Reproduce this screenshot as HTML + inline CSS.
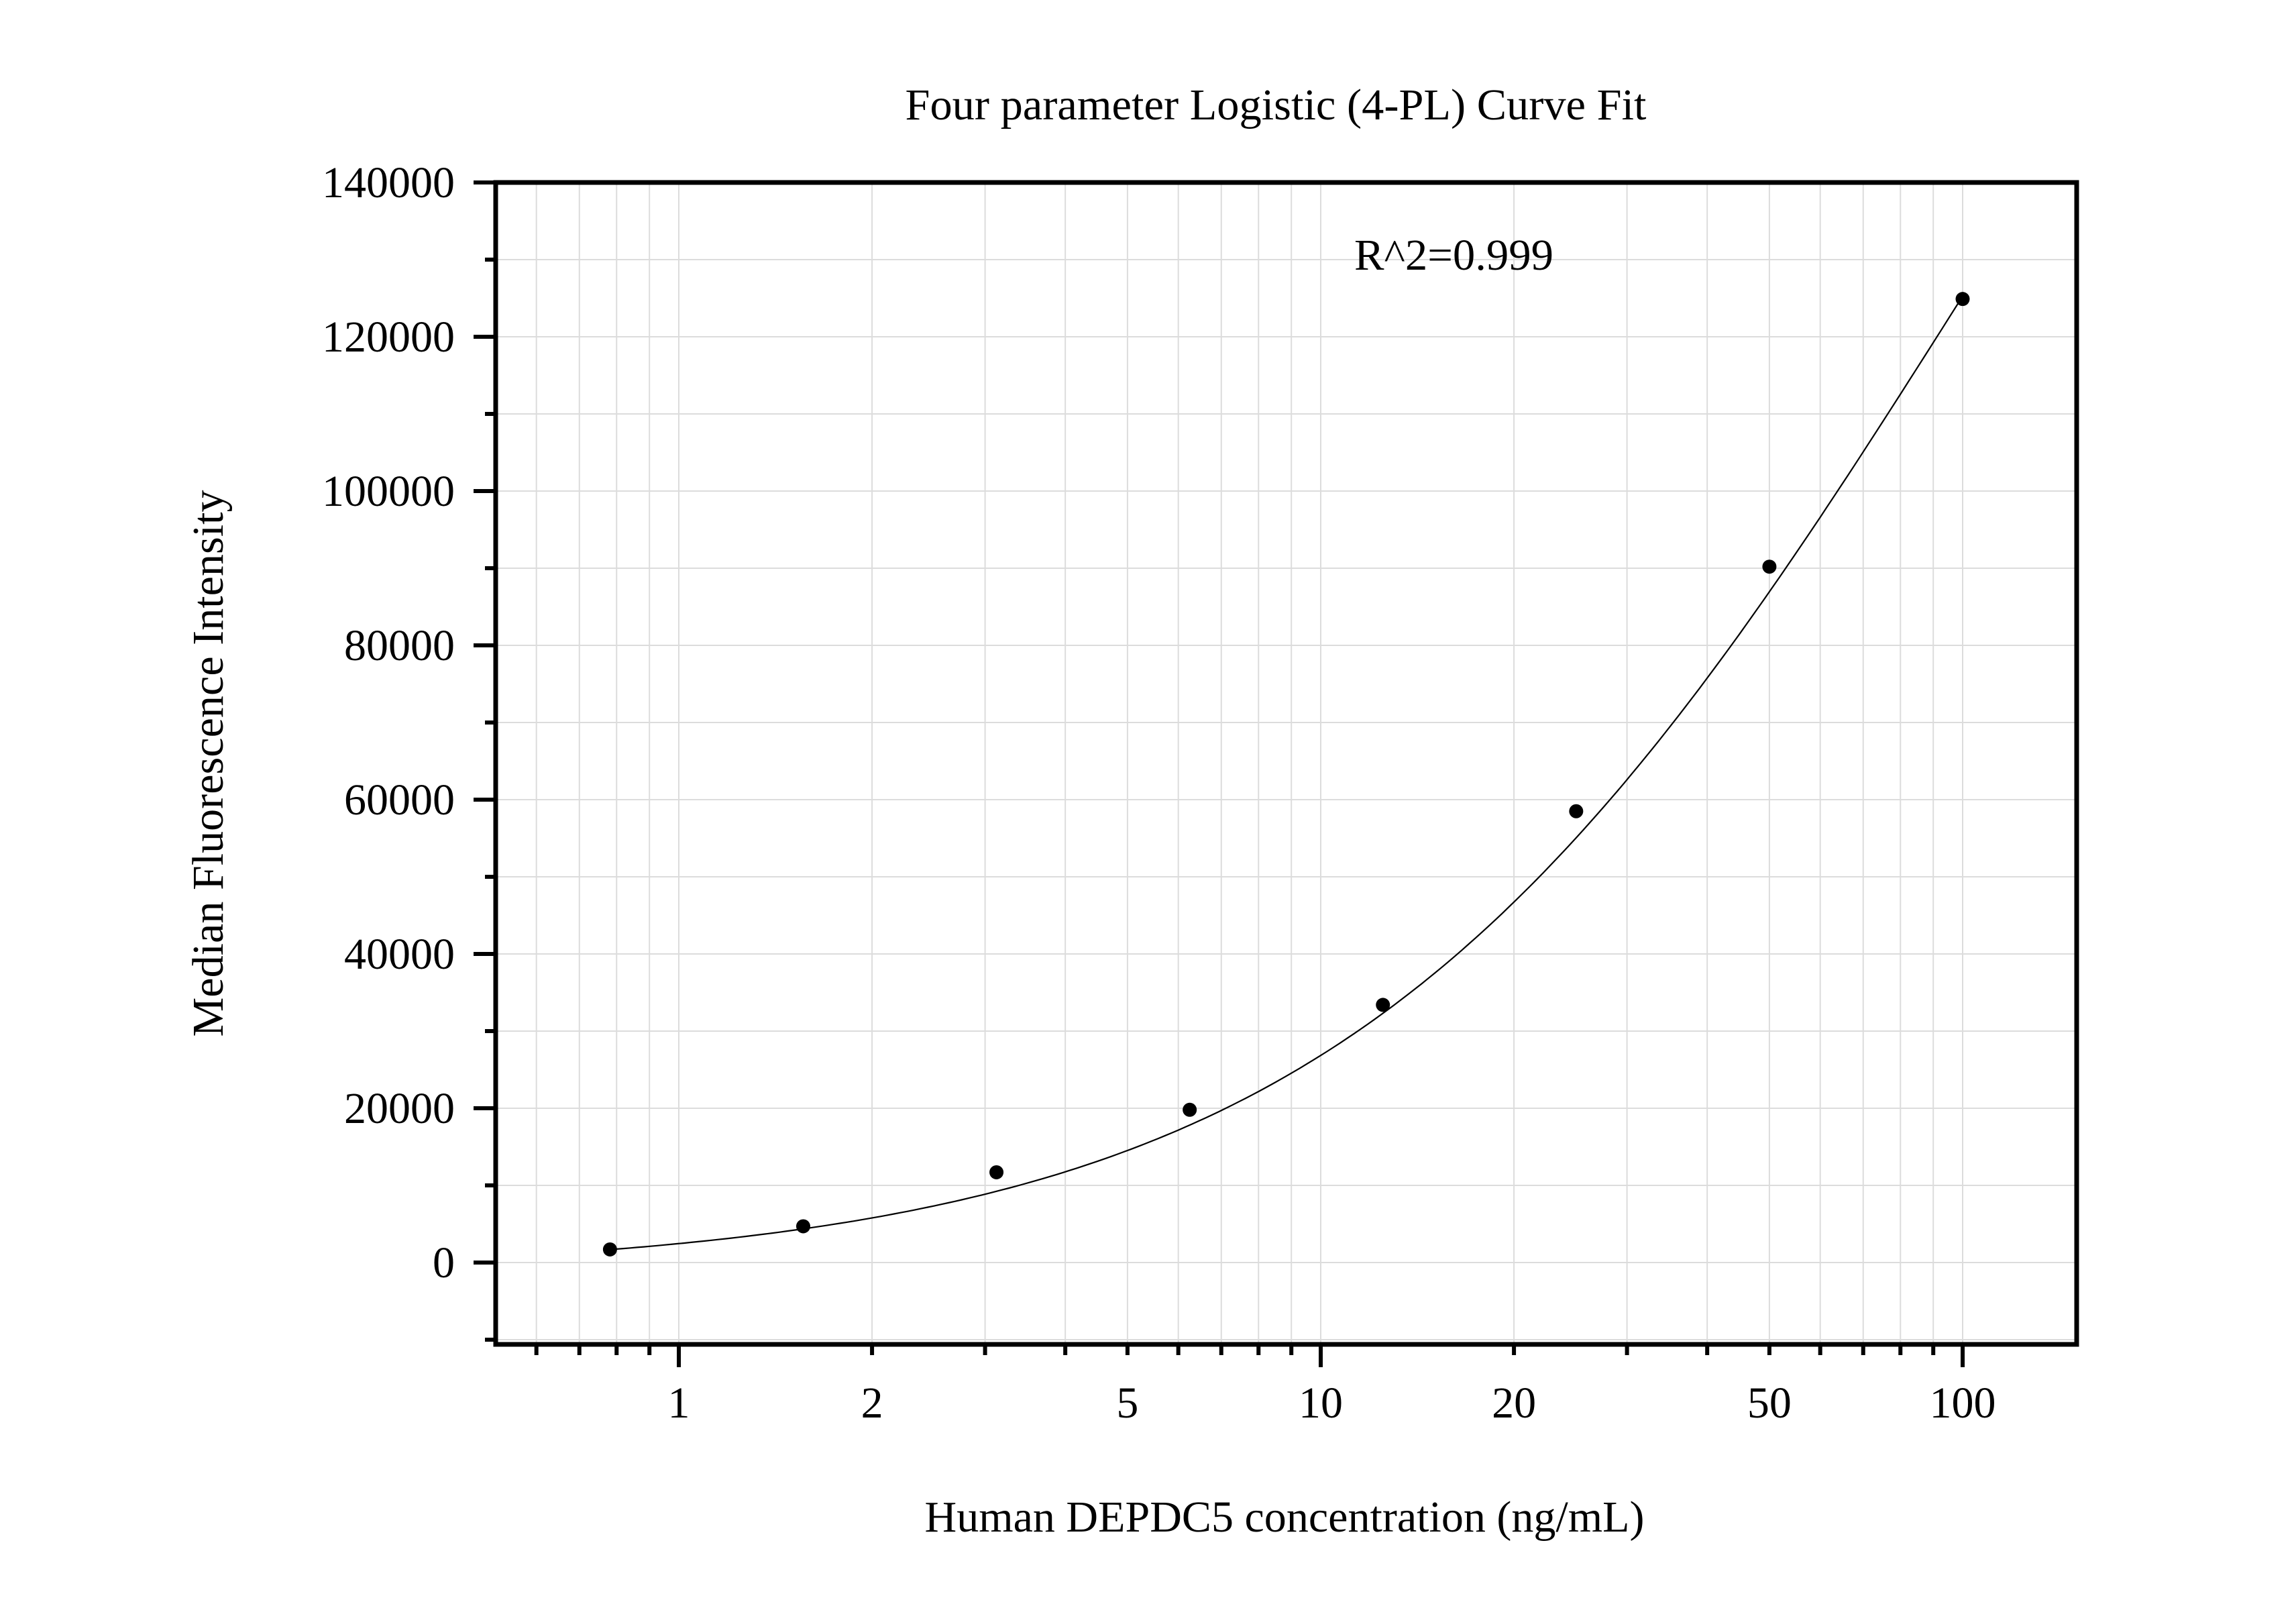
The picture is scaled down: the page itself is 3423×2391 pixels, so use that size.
<!DOCTYPE html>
<html><head><meta charset="utf-8"><style>
html,body{margin:0;padding:0;background:#fff}
svg{display:block;font-family:"Liberation Serif","Times New Roman",serif}
</style></head><body>
<svg id="chart" width="3423" height="2391" viewBox="0 0 3423 2391" xmlns="http://www.w3.org/2000/svg">
<rect width="3423" height="2391" fill="#fff"/>
<g id="grid"></g>
<g id="curve"></g>
<g id="points"></g>
<g id="axes"></g>
<text x="1902" y="178" font-size="66" text-anchor="middle" textLength="1105" lengthAdjust="spacingAndGlyphs">Four parameter Logistic (4-PL) Curve Fit</text>
<text x="2019" y="402" font-size="66" textLength="297" lengthAdjust="spacingAndGlyphs">R^2=0.999</text>
<text x="1915" y="2283" font-size="66" text-anchor="middle" textLength="1073" lengthAdjust="spacingAndGlyphs">Human DEPDC5 concentration (ng/mL)</text>
<text transform="translate(332,1138) rotate(-90)" font-size="66" text-anchor="middle" textLength="815" lengthAdjust="spacingAndGlyphs">Median Fluorescence Intensity</text>
</svg>
<script>
const concentrations = [0.78125, 1.5625, 3.125, 6.25, 12.5, 25, 50, 100];
const intensities = [1700, 4700, 11700, 19800, 33400, 58500, 90200, 124900];
const xTickValues = [1, 2, 5, 10, 20, 50, 100];
const xTickLabels = ["1", "2", "5", "10", "20", "50", "100"];
const yTickValues = [0, 20000, 40000, 60000, 80000, 100000, 120000, 140000];
const yTickLabels = ["0", "20000", "40000", "60000", "80000", "100000", "120000", "140000"];
const fitParams = [-1500, 0.9, 100, 252000]; // A (bottom), B (slope), C (EC50), D (top)

const NS = "http://www.w3.org/2000/svg";
const L = 739, R = 3096, T = 272, B = 2004;
function xs(v){ return 1012 + Math.log10(v) * 957; }
function ys(v){ return 1882 - v / 20000 * 230; }
const xMin = Math.pow(10, (L - 1012) / 957), xMax = Math.pow(10, (R - 1012) / 957);
const yMin = (1882 - B) / 230 * 20000, yMax = 140000;
function mk(tag, attrs, parent){ const e = document.createElementNS(NS, tag); for (const k in attrs) e.setAttribute(k, attrs[k]); parent.appendChild(e); return e; }

const grid = document.getElementById('grid');
const axes = document.getElementById('axes');
// vertical grid + x ticks
for (let d = -1; d <= 2; d++) {
  for (let m = 1; m <= 9; m++) {
    const v = m * Math.pow(10, d);
    if (v < xMin || v > xMax) continue;
    const x = xs(v);
    const g = mk('line', {x1:x, x2:x, y1:T, y2:B, stroke:'#dcdcdc', 'stroke-width':2}, grid);
    
    
    const major = m === 1;
    const t = mk('line', {x1:x, x2:x, y1:B, y2: major ? 2038 : 2020, stroke:'#000', 'stroke-width':6}, axes);
    
    
  }
}
// horizontal grid + y ticks
for (let v = -10000; v <= yMax; v += 10000) {
  if (v < yMin) continue;
  const y = ys(v);
  const g = mk('line', {x1:L, x2:R, y1:y, y2:y, stroke:'#dcdcdc', 'stroke-width':2}, grid);
  
  
  const major = v % 20000 === 0;
  const t = mk('line', {x1: major ? 706 : 723, x2:L, y1:y, y2:y, stroke:'#000', 'stroke-width':6}, axes);
  
  
}
// frame
const frame = mk('rect', {x:L, y:T, width:R-L, height:B-T, fill:'none', stroke:'#000', 'stroke-width':7}, axes);


// tick labels
xTickValues.forEach((v, i) => {
  const t = mk('text', {x:xs(v), y:2113, 'font-size':66, 'text-anchor':'middle'}, axes);
  t.textContent = xTickLabels[i];
  
  
});
yTickValues.forEach((v, i) => {
  const t = mk('text', {x:678, y:ys(v) + 22, 'font-size':66, 'text-anchor':'end'}, axes);
  t.textContent = yTickLabels[i];
  
  
});
// fit curve
function fourPL(x){ const [A, Bs, C, D] = fitParams; return A + (D - A) * Math.pow(x / C, Bs) / (1 + Math.pow(x / C, Bs)); }
const x0 = concentrations[0], x1 = concentrations[concentrations.length - 1];
let d = '';
for (let i = 0; i <= 200; i++) {
  const v = Math.pow(10, Math.log10(x0) + (Math.log10(x1) - Math.log10(x0)) * i / 200);
  d += (i ? 'L' : 'M') + xs(v).toFixed(1) + ',' + ys(fourPL(v)).toFixed(1);
}
const path = mk('path', {d:d, fill:'none', stroke:'#000', 'stroke-width':2.2}, document.getElementById('curve'));


// points
const pts = document.getElementById('points');
concentrations.forEach((c, i) => {
  const p = mk('circle', {cx:xs(c), cy:ys(intensities[i]), r:10.5, fill:'#000'}, pts);
  
  
});
</script>
</body></html>
